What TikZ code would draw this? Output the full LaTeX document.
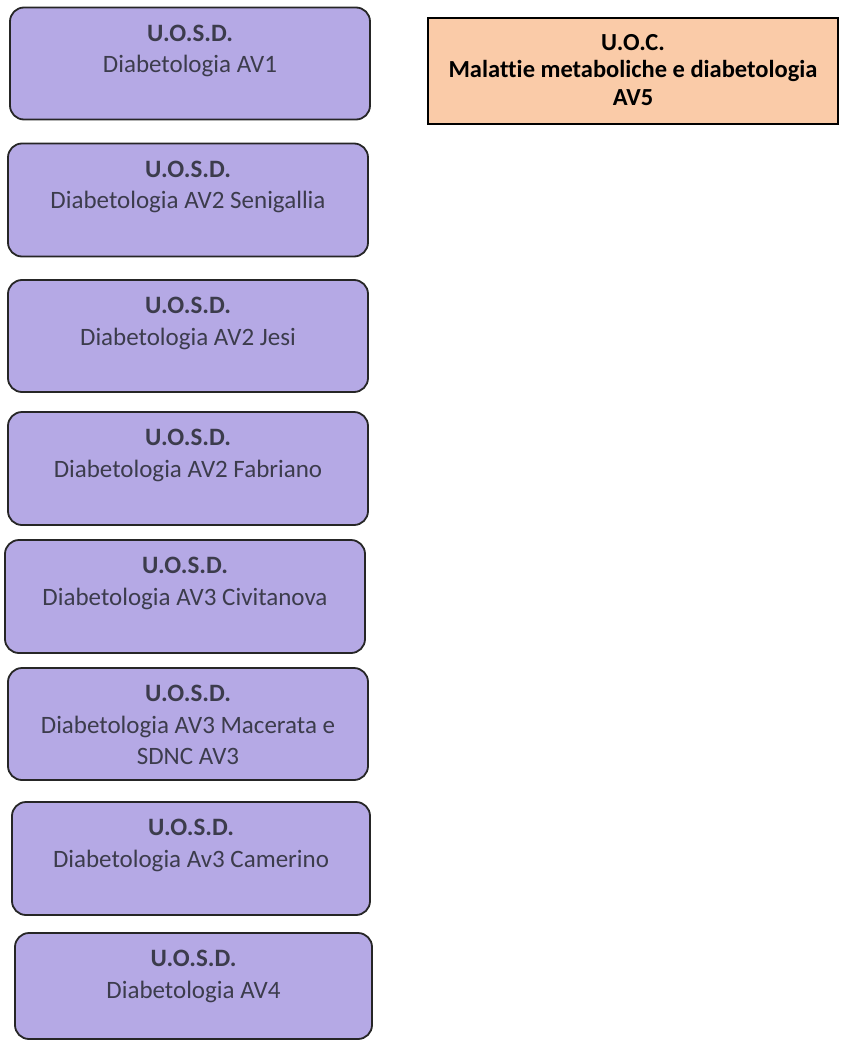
\documentclass[tikz,border=0pt]{standalone}
\usepackage{fontspec}
\setmainfont{Carlito}[Ligatures=NoCommon]
\usepackage{tikz}
\usetikzlibrary{positioning}
\definecolor{unitfill}{RGB}{181,169,229}
\definecolor{unittext}{RGB}{60,60,76}
\definecolor{uocfill}{RGB}{250,203,168}
\tikzset{
  unitbox/.style={draw=black!85, line width=1.8pt, rounded corners=14pt, fill=unitfill,
    minimum width=360pt, minimum height=112pt, inner sep=0pt},
  unitlabel/.style={inner sep=0pt, align=center, text=unittext,
    font=\fontsize{25}{31.5}\selectfont},
  uocbox/.style={draw=black, line width=1.4pt, fill=uocfill,
    minimum width=410pt, minimum height=106pt, inner sep=0pt},
  uoclabel/.style={inner sep=0pt, align=center, text=black,
    font=\bfseries\fontsize{24.5}{27.5}\selectfont}
}
\begin{document}
\begin{tikzpicture}[x=1pt, y=-1pt]
    \useasboundingbox (0, 0) rectangle (845, 1041);

    \node[unitbox] (AV1) at (190, 63.5) {};
    \node[unitbox, minimum height=113pt] (AV2S) at (188, 200) {};
    \node[unitbox] (AV2J) at (188, 336) {};
    \node[unitbox, minimum height=113pt] (AV2F) at (188, 468.5) {};
    \node[unitbox, minimum height=113pt] (AV3C) at (185, 596.5) {};
    \node[unitbox] (AV3M) at (188, 724) {};
    \node[unitbox, minimum width=358pt, minimum height=113pt] (AV3K) at (191, 858.5) {};
    \node[unitbox, minimum width=357pt, minimum height=106pt] (AV4) at (193.5, 986) {};

    \node[uocbox] (AV5) at (633, 71) {};

    \node[unitlabel, below=18pt of AV1.north] (AV1t) {\textbf{U.O.S.D.}\\Diabetologia AV1};
    \node[unitlabel, below=18pt of AV2S.north] (AV2St) {\textbf{U.O.S.D.}\\Diabetologia AV2 Senigallia};
    \node[unitlabel, below=18pt of AV2J.north] (AV2Jt) {\textbf{U.O.S.D.}\\Diabetologia AV2 Jesi};
    \node[unitlabel, below=18pt of AV2F.north] (AV2Ft) {\textbf{U.O.S.D.}\\Diabetologia AV2 Fabriano};
    \node[unitlabel, below=18pt of AV3C.north] (AV3Ct) {\textbf{U.O.S.D.}\\Diabetologia AV3 Civitanova};
    \node[unitlabel, below=18pt of AV3M.north] (AV3Mt) {\textbf{U.O.S.D.}\\Diabetologia AV3 Macerata e\\SDNC AV3};
    \node[unitlabel, below=18pt of AV3K.north] (AV3Kt) {\textbf{U.O.S.D.}\\Diabetologia Av3 Camerino};
    \node[unitlabel, below=18pt of AV4.north] (AV4t) {\textbf{U.O.S.D.}\\Diabetologia AV4};

    \node[uoclabel, below=16.5pt of AV5.north] (AV5t) {U.O.C.\\Malattie metaboliche e diabetologia\\AV5};
\end{tikzpicture}
\end{document}
